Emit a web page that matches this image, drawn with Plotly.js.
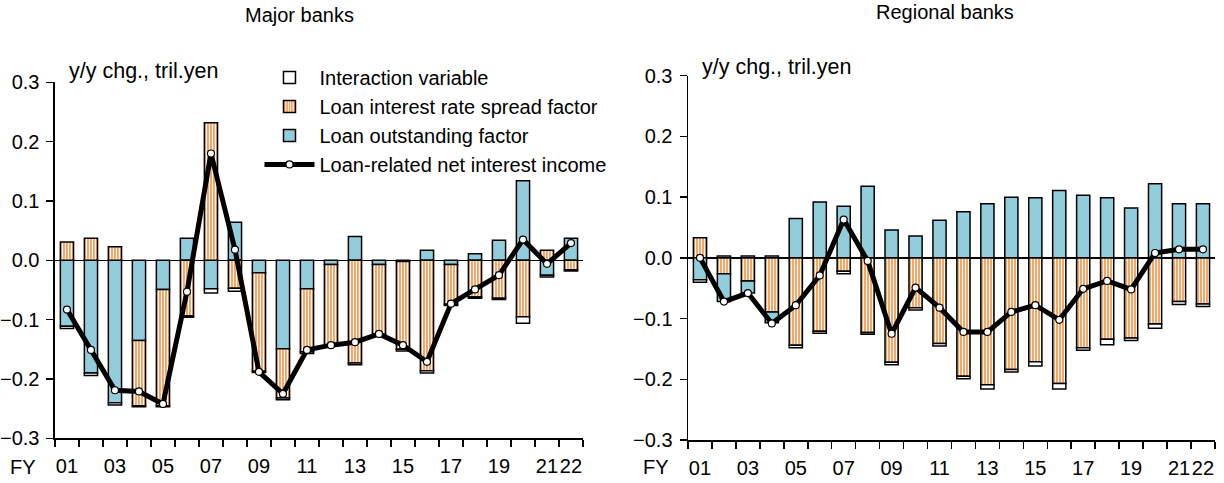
<!DOCTYPE html>
<html>
<head>
<meta charset="utf-8">
<script src="https://cdn.plot.ly/plotly-3.0.1.min.js"></script>
<style>html,body{margin:0;padding:0;background:#fff;}#chart{width:1224px;height:483px;}</style>
</head>
<body>
<div id="chart"></div>
<script>
// Fiscal years (x positions 1..22 = FY01..FY22)
const years = [1,2,3,4,5,6,7,8,9,10,11,12,13,14,15,16,17,18,19,20,21,22];
const tickYears = [1,3,5,7,9,11,13,15,17,19,21,22];
const tickLabels = ['01','03','05','07','09','11','13','15','17','19','21','22'];

// Major banks (tril. yen, y/y change)
const majorOutstanding = [-0.111,-0.190,-0.240,-0.135,-0.049,0.037,-0.048,0.064,-0.021,-0.149,-0.048,-0.007,0.040,-0.007,-0.002,0.017,-0.007,0.011,0.034,0.134,-0.025,0.037];
const majorSpread      = [0.031,0.037,0.023,-0.110,-0.196,-0.094,0.232,-0.047,-0.166,-0.083,-0.106,-0.136,-0.173,-0.118,-0.148,-0.186,-0.067,-0.062,-0.064,-0.095,0.017,-0.016];
const majorInteraction = [-0.004,-0.004,-0.004,-0.002,-0.002,-0.002,-0.007,-0.005,-0.002,-0.003,-0.003,-0.002,-0.003,-0.002,-0.003,-0.004,-0.002,-0.002,-0.002,-0.011,-0.003,-0.002];
const majorNet         = [-0.083,-0.151,-0.219,-0.221,-0.242,-0.053,0.180,0.018,-0.188,-0.225,-0.151,-0.143,-0.138,-0.124,-0.143,-0.171,-0.073,-0.049,-0.025,0.035,-0.006,0.029];

// Regional banks (tril. yen, y/y change)
const regionalSpread      = [0.033,-0.026,-0.038,-0.089,-0.144,-0.121,-0.022,-0.123,-0.172,-0.082,-0.141,-0.195,-0.209,-0.184,-0.171,-0.207,-0.148,-0.134,-0.132,-0.109,-0.072,-0.076];
const regionalOutstanding = [-0.036,-0.046,-0.020,-0.018,0.065,0.092,0.085,0.118,0.046,0.036,0.062,0.076,0.089,0.100,0.099,0.111,0.103,0.099,0.082,0.122,0.089,0.089];
const regionalInteraction = [-0.004,0.003,0.003,0.003,-0.004,-0.003,-0.004,-0.003,-0.004,-0.004,-0.004,-0.004,-0.007,-0.004,-0.007,-0.009,-0.004,-0.009,-0.004,-0.007,-0.005,-0.004];
const regionalNet         = [0.000,-0.072,-0.058,-0.108,-0.078,-0.029,0.063,-0.005,-0.125,-0.049,-0.082,-0.122,-0.122,-0.089,-0.078,-0.102,-0.051,-0.038,-0.052,0.008,0.014,0.014];

const names = ['Interaction variable','Loan interest rate spread factor','Loan outstanding factor','Loan-related net interest income'];

const BLUE = '#92CDDC';
const ORANGE = '#F6A564';
const barLine = {color:'#000', width:1.5};
const FONT = 'Liberation Sans, Arial, sans-serif';

function blueBar(y, xa, ya, show){
  return {type:'bar', x:years, y:y, xaxis:xa, yaxis:ya, name:names[2], legendrank:3, showlegend:show,
    width:0.55, marker:{color:BLUE, line:barLine}};
}
function orangeBar(y, xa, ya, show){
  return {type:'bar', x:years, y:y, xaxis:xa, yaxis:ya, name:names[1], legendrank:2, showlegend:show,
    width:0.55, marker:{color:ORANGE, line:barLine,
      pattern:{shape:'|', fgcolor:'#FFFFFF', bgcolor:ORANGE, size:3, solidity:0.35, fillmode:'replace'}}};
}
function whiteBar(y, xa, ya, show){
  return {type:'bar', x:years, y:y, xaxis:xa, yaxis:ya, name:names[0], legendrank:1, showlegend:show,
    width:0.55, marker:{color:'#FFFFFF', line:barLine}};
}
function netLine(y, xa, ya, show){
  return {type:'scatter', mode:'lines+markers', x:years, y:y, xaxis:xa, yaxis:ya, name:names[3], legendrank:4, showlegend:show,
    line:{color:'#000', width:5}, marker:{color:'#FFFFFF', size:7, line:{color:'#000', width:1.2}}};
}

const data = [
  blueBar(majorOutstanding,'x','y',true),
  orangeBar(majorSpread,'x','y',true),
  whiteBar(majorInteraction,'x','y',true),
  netLine(majorNet,'x','y',true),
  orangeBar(regionalSpread,'x2','y2',false),
  blueBar(regionalOutstanding,'x2','y2',false),
  whiteBar(regionalInteraction,'x2','y2',false),
  netLine(regionalNet,'x2','y2',false)
];

function xAxis(domain, anchor){
  return {domain:domain, anchor:anchor, range:[0.5,22.5], type:'linear',
    tickmode:'array', tickvals:tickYears, ticktext:tickLabels, ticks:'', tickangle:0, ticklabelstandoff:9,
    showline:true, linecolor:'#000', linewidth:1.5, showgrid:false, zeroline:false,
    tickfont:{family:FONT, size:20, color:'#000'},
    minor:{tickmode:'linear', tick0:0.5, dtick:1, ticks:'outside', ticklen:7, tickcolor:'#000', tickwidth:1.5, showgrid:false}};
}
function yAxis(domain, anchor){
  return {domain:domain, anchor:anchor, range:[-0.3,0.3], tickmode:'linear', tick0:-0.3, dtick:0.1, tickformat:'.1f',
    ticks:'outside', ticklen:7, tickwidth:1.5, tickcolor:'#000', showline:true, linecolor:'#000', linewidth:1.5,
    showgrid:false, zeroline:true, zerolinecolor:'#000', zerolinewidth:1.5, ticklabelstandoff:3,
    tickfont:{family:FONT, size:20, color:'#000'}};
}

const layout = {
  width:1224, height:483,
  margin:{l:0, r:0, t:0, b:0},
  paper_bgcolor:'#fff', plot_bgcolor:'#fff',
  barmode:'relative',
  font:{family:FONT, size:20, color:'#000'},
  xaxis: xAxis([0.0449,0.4763],'y'),
  yaxis: yAxis([0.0925,0.8296],'x'),
  xaxis2: xAxis([0.5621,0.9926],'y2'),
  yaxis2: yAxis([0.0890,0.8433],'x2'),
  showlegend:true,
  legend:{x:0.212, y:0.88, xanchor:'left', yanchor:'top', bgcolor:'rgba(255,255,255,0)',
    font:{family:FONT, size:20, color:'#000'}, itemwidth:50, tracegroupgap:0, traceorder:'normal'},
  annotations:[
    {text:'Major banks', xref:'paper', yref:'paper', x:0.245, y:1-15/483, xanchor:'center', yanchor:'middle', showarrow:false, font:{family:FONT, size:20}},
    {text:'Regional banks', xref:'paper', yref:'paper', x:0.772, y:1-12/483, xanchor:'center', yanchor:'middle', showarrow:false, font:{family:FONT, size:20}},
    {text:'y/y chg., tril.yen', xref:'paper', yref:'paper', x:67/1224, y:1-71/483, xanchor:'left', yanchor:'middle', showarrow:false, font:{family:FONT, size:21.5}},
    {text:'y/y chg., tril.yen', xref:'paper', yref:'paper', x:700/1224, y:1-67/483, xanchor:'left', yanchor:'middle', showarrow:false, font:{family:FONT, size:21.5}},
    {text:'FY', xref:'paper', yref:'paper', x:23/1224, y:1-467/483, xanchor:'center', yanchor:'middle', showarrow:false, font:{family:FONT, size:20}},
    {text:'FY', xref:'paper', yref:'paper', x:656/1224, y:1-467/483, xanchor:'center', yanchor:'middle', showarrow:false, font:{family:FONT, size:20}}
  ]
};

Plotly.newPlot('chart', data, layout, {staticPlot:true, displayModeBar:false});
</script>
</body>
</html>
